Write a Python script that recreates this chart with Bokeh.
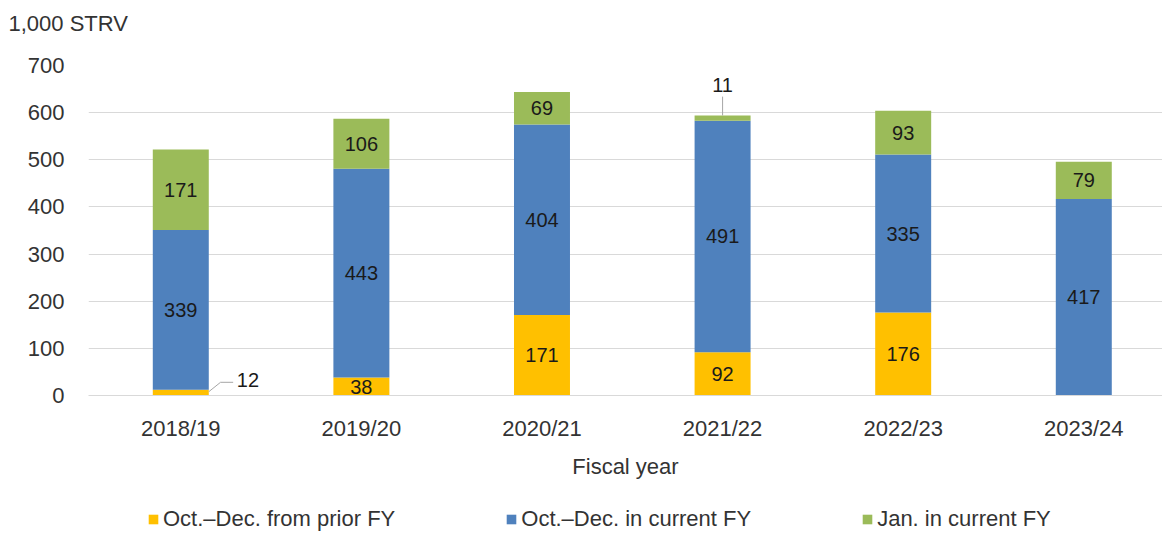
import numpy as np
from bokeh.plotting import figure
from bokeh.layouts import column
from bokeh.models import (ColumnDataSource, Range1d, FixedTicker, Legend, LegendItem,
                          Label, LabelSet, Title)
from bokeh.core.properties import value
from bokeh.embed import file_html
from bokeh.resources import INLINE

# ---- data ----
years = ["2018/19", "2019/20", "2020/21", "2021/22", "2022/23", "2023/24"]
prior_fy = [12, 38, 171, 92, 176, 0]        # Oct.-Dec. from prior FY
current_fy = [339, 443, 404, 491, 335, 417]  # Oct.-Dec. in current FY
jan_current = [171, 106, 69, 11, 93, 79]     # Jan. in current FY
series_names = ["Oct.\u2013Dec. from prior FY", "Oct.\u2013Dec. in current FY", "Jan. in current FY"]
y_ticks = [0, 100, 200, 300, 400, 500, 600, 700]
unit_label = "1,000 STRV"

colors = ["#FFC000", "#4F81BD", "#9BBB59"]
FONT = "Liberation Sans"

X0 = -0.011
XSPAN = 1074 / 180.6

x = np.arange(len(years)) + 0.5
keys = ["prior", "current", "jan"]
src = ColumnDataSource(dict(x=x, prior=prior_fy, current=current_fy, jan=jan_current))

p = figure(width=1162, height=500, output_backend="svg", toolbar_location=None,
           x_range=Range1d(X0, X0 + XSPAN), y_range=Range1d(0, 700),
           min_border_left=88, min_border_right=0, min_border_top=65, min_border_bottom=105)
p.outline_line_color = None
p.background_fill_color = "white"
p.border_fill_color = "white"

rs = p.vbar_stack(keys, x="x", width=0.31, color=colors, line_color=None, source=src)

# axes
p.xaxis.ticker = FixedTicker(ticks=list(x))
p.xaxis.major_label_overrides = {float(v): y for v, y in zip(x, years)}
p.xaxis.axis_line_color = "#D9D9D9"
p.xaxis.axis_line_width = 1
p.xaxis.major_tick_line_color = None
p.xaxis.minor_tick_line_color = None
p.xaxis.major_label_text_font = FONT
p.xaxis.major_label_text_font_size = "22px"
p.xaxis.major_label_text_color = "#333333"
p.xaxis.major_label_standoff = 14
p.xaxis.axis_label = "Fiscal year"
p.xaxis.axis_label_text_font = FONT
p.xaxis.axis_label_text_font_size = "22px"
p.xaxis.axis_label_text_font_style = "normal"
p.xaxis.axis_label_text_color = "#333333"
p.xaxis.axis_label_standoff = 10

p.yaxis.ticker = FixedTicker(ticks=y_ticks)
p.yaxis.axis_line_color = None
p.yaxis.major_tick_line_color = None
p.yaxis.minor_tick_line_color = None
p.yaxis.major_label_text_font = FONT
p.yaxis.major_label_text_font_size = "22px"
p.yaxis.major_label_text_color = "#333333"
p.yaxis.major_label_standoff = 18

p.xgrid.grid_line_color = None
p.ygrid.grid_line_color = "#D9D9D9"
p.ygrid.grid_line_width = 1

# data labels (inside segments)
vals = [np.array(prior_fy), np.array(current_fy), np.array(jan_current)]
bottoms = [np.zeros(len(years)), np.array(prior_fy), np.array(prior_fy) + np.array(current_fy)]
lx, ly, lt = [], [], []
for v, b in zip(vals, bottoms):
    for i in range(len(years)):
        if v[i] >= 20:
            lx.append(x[i]); ly.append(b[i] + v[i] / 2); lt.append(str(v[i]))
lab_src = ColumnDataSource(dict(x=lx, y=ly, t=lt))
p.add_layout(LabelSet(x="x", y="y", text="t", source=lab_src, text_align="center",
                      text_baseline="middle", text_font=value(FONT), text_font_size="20px",
                      text_color="#1A1A1A"))

# callouts for the small segments
i0 = 0  # prior FY of 2018/19
p.line([x[i0] + 0.155, x[i0] + 0.22, x[i0] + 0.29], [prior_fy[i0] / 2 + 2, 28, 28],
       line_color="#A6A6A6", line_width=1)
p.add_layout(Label(x=x[i0] + 0.31, y=32, text=str(prior_fy[i0]), text_baseline="middle",
                   text_font=FONT, text_font_size="20px", text_color="#1A1A1A"))
i3 = 3  # Jan. of 2021/22
top3 = prior_fy[i3] + current_fy[i3] + jan_current[i3]
p.line([x[i3], x[i3]], [top3, top3 + 40], line_color="#A6A6A6", line_width=1)
p.add_layout(Label(x=x[i3], y=top3 + 50, text=str(jan_current[i3]), text_align="center",
                   text_baseline="bottom", text_font=FONT, text_font_size="20px",
                   text_color="#1A1A1A"))

# spacer + unit label as titles above the frame
p.add_layout(Title(text=" ", text_font_size="10px", standoff=17), "above")
p.add_layout(Title(text=unit_label, align="left", offset=-80, standoff=0,
                   text_font=FONT, text_font_size="22px", text_font_style="normal",
                   text_color="#333333"), "above")

# legend strip as a separate figure below the chart (renderers hidden)
pl = figure(width=1162, height=33, output_backend="svg", toolbar_location=None,
            x_axis_type=None, y_axis_type=None, x_range=Range1d(1000, 1001),
            y_range=Range1d(1000, 1001), min_border=0)
pl.outline_line_color = None
pl.xgrid.grid_line_color = None
pl.ygrid.grid_line_color = None
proxies = pl.vbar_stack(keys, x="x", width=0.31, color=colors, line_color=None, source=src)
for r in proxies:
    r.visible = False
items = [LegendItem(label=n, renderers=[r]) for n, r in zip(series_names, proxies)]
legend = Legend(items=items, orientation="horizontal", location=(59, 1),
                glyph_width=12, glyph_height=12, label_standoff=4, spacing=110,
                padding=0, margin=0, border_line_color=None, background_fill_alpha=0,
                label_text_font=FONT, label_text_font_size="22px",
                label_text_color="#333333", label_height=22)
pl.add_layout(legend, "center")

layout = column(p, pl, spacing=0)
open("out.html", "w").write(file_html(layout, INLINE))
